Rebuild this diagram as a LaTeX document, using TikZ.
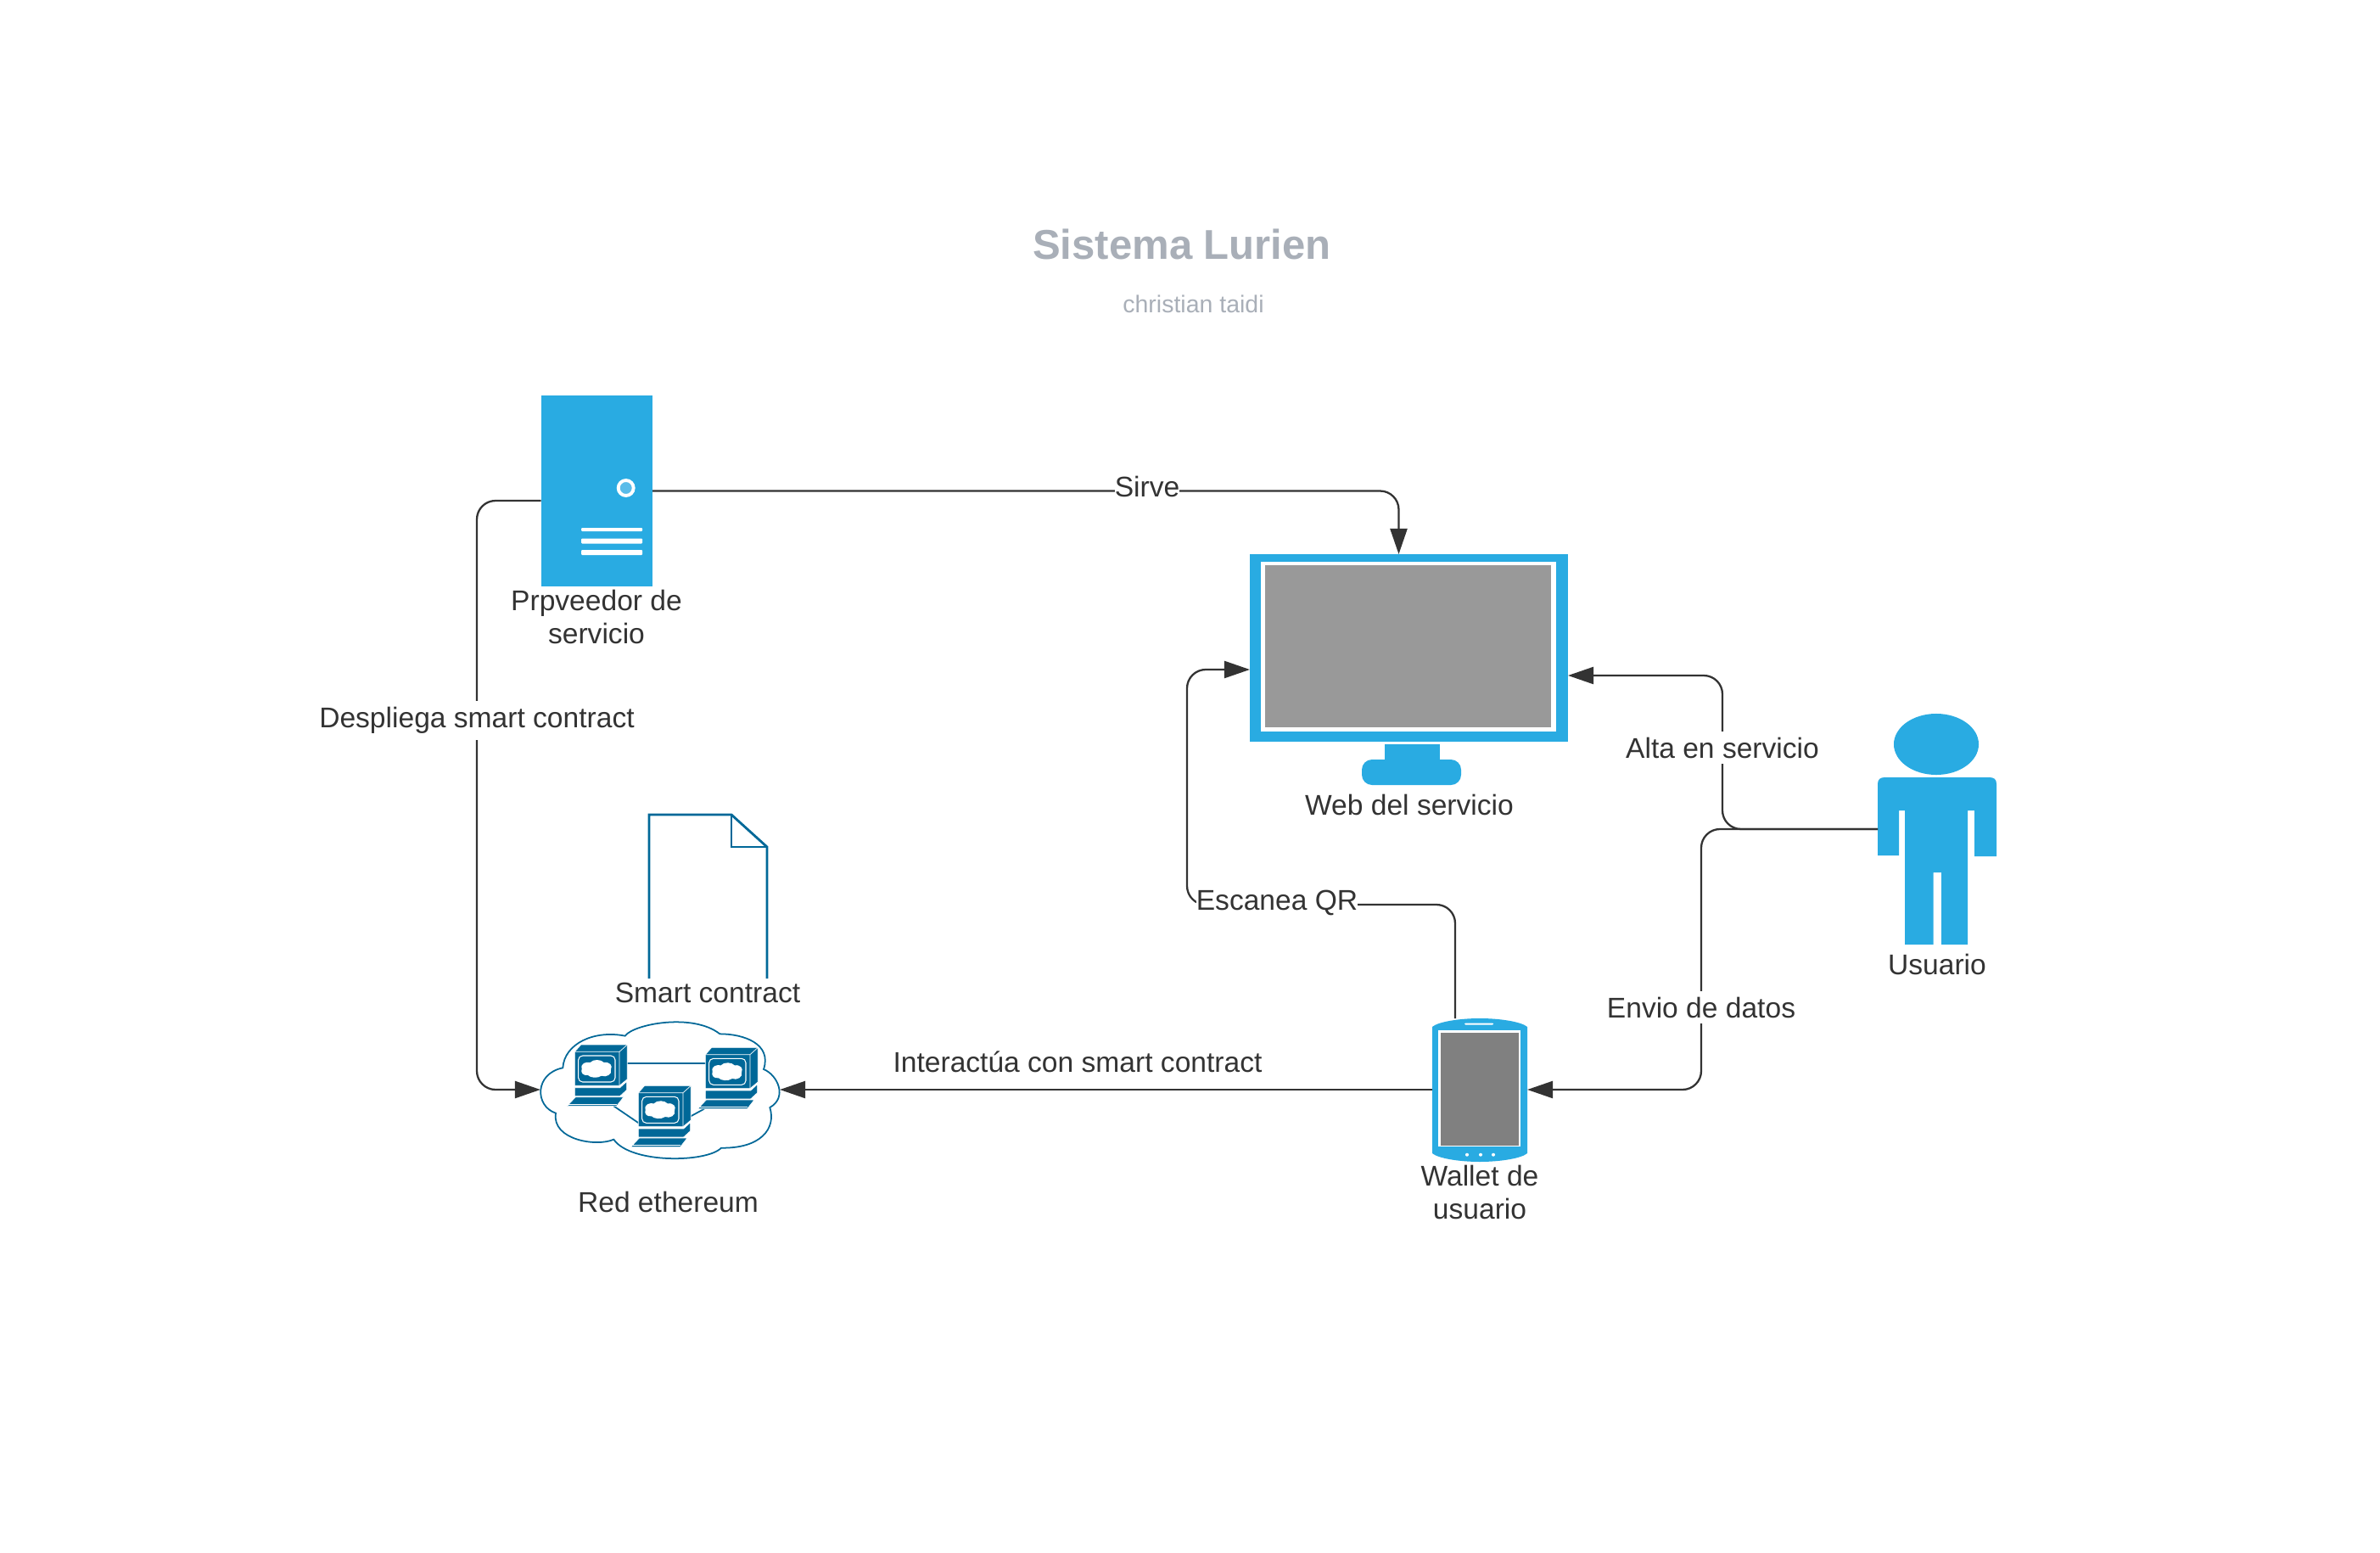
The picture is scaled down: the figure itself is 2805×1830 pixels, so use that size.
\documentclass[tikz,border=0pt]{standalone}
\usepackage{fontspec}
\setmainfont{Liberation Sans}
\usetikzlibrary{arrows.meta,positioning,calc}
\definecolor{iconblue}{RGB}{41,171,226}
\definecolor{ringblue}{RGB}{90,188,233}
\definecolor{netblue}{RGB}{0,104,152}
\definecolor{linegray}{RGB}{51,51,51}
\definecolor{screengray}{RGB}{153,153,153}
\definecolor{phonegray}{RGB}{128,128,128}
\definecolor{titlegray}{RGB}{169,175,184}
\tikzset{
  iconbox/.style={fill=iconblue,inner sep=0pt,outer sep=0pt},
  ghostbox/.style={inner sep=0pt,outer sep=0pt},
  flow/.style={draw=linegray,line width=0.65pt,rounded corners=0.22cm,-{Triangle[length=0.3cm,width=0.2cm]}},
  caption/.style={font=\fontsize{9.55}{11.2}\selectfont,text=linegray,align=center,inner sep=1pt},
  edgelabel/.style={caption,fill=white,inner xsep=0pt,inner ysep=2pt},
  netpc/.pic={
    \draw[fill=netblue,draw=white,line width=0.2pt] (0,0) -- (22,-25) -- (186,-25) -- (186,97) -- (158,120) -- (0,120) -- cycle;
    \draw[white,line width=0.2pt] (0,0) -- (158,0) -- (186,-25) (158,0) -- (158,120);
    \draw[fill=netblue,draw=white,line width=0.2pt] (0,127) -- (160,127) -- (184,105) -- (184,135) -- (160,157) -- (0,157) -- cycle;
    \draw[fill=netblue,draw=white,line width=0.2pt] (-27,192) -- (3,160) -- (173,160) -- (148,192) -- cycle;
    \draw[white,line width=0.2pt] (-27,186) -- (150,186);
    \draw[white,line width=0.3pt,rounded corners=0.05cm] (13,14) rectangle (143,107);
    \fill[white] (25,60) .. controls (20,40) and (40,35) .. (55,38) .. controls (65,25) and (95,27) .. (103,38) .. controls (125,35) and (135,50) .. (128,62) .. controls (135,80) and (110,92) .. (95,85) .. controls (80,95) and (55,92) .. (47,83) .. controls (30,85) and (20,75) .. (25,60) -- cycle;
  }
}
\begin{document}
\begin{tikzpicture}[x=0.01cm,y=-0.01cm]
\useasboundingbox (0,0) rectangle (2805,1830);
\fill[white] (0,0) rectangle (2805,1830);
\node[font=\fontsize{13.95}{16}\selectfont\bfseries,text=titlegray] (title) at (1393,288) {Sistema Lurien};
\node[font=\fontsize{8.1}{10}\selectfont,text=titlegray] (subtitle) at (1406.5,358) {christian taidi};

\node[iconbox,minimum width=1.31cm,minimum height=2.25cm] (server) at (703.5,578.5) {};
\draw[white,line width=1.1pt,fill=ringblue] (737.7,575) circle[radius=0.09cm];
\foreach \bary/\barh in {624/4,637.5/6,651/6}
  \fill[white,rounded corners=0.01cm] (685,\bary-\barh/2) rectangle (757,\bary+\barh/2);
\coordinate (serverport) at (637.5,590);

\node[iconbox,minimum width=3.75cm,minimum height=2.21cm] (monitor) at (1660.5,763.5) {};
\node[ghostbox,fill=white,minimum width=3.48cm,minimum height=2cm] (screenedge) at (1660,762) {};
\node[ghostbox,fill=screengray,minimum width=3.37cm,minimum height=1.905cm] (screen) at (1659.5,761.5) {};
\fill[iconblue] (1632,877) rectangle (1697,900);
\fill[iconblue,rounded corners=0.12cm] (1605,895) rectangle (1722,925);
\coordinate (monitortop) at (1648.5,653);
\coordinate (monitorleft) at (1473,789);
\coordinate (monitorright) at (1848,796);

\node[ghostbox,minimum width=1.12cm,minimum height=1.68cm] (phone) at (1744,1284) {};
\fill[iconblue] (1688,1210) .. controls (1695,1204) and (1720,1200) .. (1744,1200) .. controls (1768,1200) and (1793,1204) .. (1800,1210) -- (1800,1359) .. controls (1793,1365) and (1768,1369) .. (1744,1369) .. controls (1720,1369) and (1695,1365) .. (1688,1359) -- cycle;
\fill[white] (1695,1213.5) rectangle (1792,1351);
\fill[phonegray] (1698,1216.5) rectangle (1790,1349.5);
\fill[white,rounded corners=0.01cm] (1726,1205.5) rectangle (1760,1207.5);
\foreach \dotx in {1729,1745,1760}
  \fill[white] (\dotx,1360.7) circle[radius=0.02cm];
\coordinate (phonetop) at (1715,1200);

\node[ghostbox,minimum width=1.4cm,minimum height=1.97cm] (user) at (2283,1014.5) {};
\fill[iconblue] (2282,877) ellipse[x radius=0.5cm,y radius=0.36cm];
\fill[iconblue] (2213,924) .. controls (2213,918) and (2216,916) .. (2222,916) -- (2344,916) .. controls (2350,916) and (2353,918) .. (2353,924) -- (2353,1009) -- (2327,1009) -- (2327,955) -- (2319,955) -- (2319,1113) -- (2288,1113) -- (2288,1028) -- (2278.5,1028) -- (2278.5,1113) -- (2245,1113) -- (2245,955) -- (2238,955) -- (2238,1008) -- (2213,1008) -- cycle;
\coordinate (userport) at (2213,977);

\draw[netblue,line width=0.8pt] (765,1153) -- (765,960) -- (862,960) -- (904,998) -- (904,1153);
\draw[netblue,line width=0.8pt] (862,960) -- (862,998) -- (904,998);

\node[ghostbox,minimum width=2.82cm,minimum height=1.63cm] (cloud) at (778,1284) {};
\begin{scope}[shift={(600,1150)},scale=1/3]
\draw[netblue,line width=0.5pt,fill=white] (410,212) .. controls (440,170) and (650,130) .. (745,205) .. controls (830,205) and (930,240) .. (900,330) .. controls (950,350) and (985,430) .. (922,465) .. controls (945,540) and (890,610) .. (750,608) .. controls (700,660) and (430,665) .. (370,578) .. controls (310,605) and (150,580) .. (165,485) .. controls (90,460) and (90,345) .. (190,325) .. controls (195,240) and (300,190) .. (410,212) -- cycle;
\coordinate (linkaa) at (415,308);
\coordinate (linkab) at (695,308);
\coordinate (linkba) at (370,460);
\coordinate (linkbb) at (458,520);
\coordinate (linkca) at (635,500);
\coordinate (linkcb) at (690,470);
\draw[netblue,line width=0.5pt] (linkaa) -- (linkab);
\draw[netblue,line width=0.5pt] (linkba) -- (linkbb);
\draw[netblue,line width=0.5pt] (linkca) -- (linkcb);
\pic[scale=1/3] at (232,268) {netpc};
\pic[scale=1/3] at (694,278) {netpc};
\pic[scale=1/3] at (457,413) {netpc};
\end{scope}

\coordinate (deployrail) at (562,846);
\coordinate (scancorner) at (1399,1066);
\coordinate (altarail) at (2030,882);
\coordinate (enviorail) at (2005,1188);
\draw[flow] (server.east) -| (monitortop);
\draw[flow] (serverport) -| (deployrail) |- (cloud.west);
\draw[flow] (phone.west) -- (cloud.east);
\draw[flow] (phonetop) |- (scancorner) |- (monitorleft);
\draw[flow] (userport) -| (altarail) |- (monitorright);
\draw[flow] (userport) -| (enviorail) |- (phone.east);

\node[edgelabel] (sirve) at (1352,573) {Sirve};
\node[edgelabel] (deploy) at (562,849) {Despliega smart contract};
\node[edgelabel] (scan) at (1505,1064) {Escanea QR};
\node[edgelabel] (alta) at (2030,881) {Alta en servicio};
\node[edgelabel] (envio) at (2005,1187) {Envio de datos};
\node[caption] (interact) at (1270,1251) {Interactúa con smart contract};
\node[caption] (serverlabel) at (703,727) {Prpveedor de\\servicio};
\node[caption] (monitorlabel) at (1661,948) {Web del servicio};
\node[caption] (userlabel) at (2283,1136) {Usuario};
\node[caption] (phonelabel) at (1744,1405) {Wallet de\\usuario};
\node[caption] (cloudlabel) at (787.5,1416) {Red ethereum};
\node[caption] (doclabel) at (834,1170) {Smart contract};
\end{tikzpicture}
\end{document}
